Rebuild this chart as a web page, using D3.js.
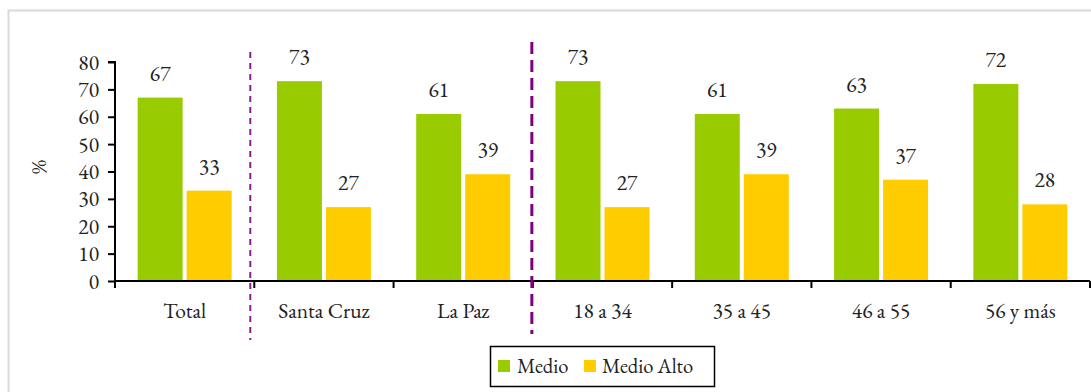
<!DOCTYPE html>
<html>
<head>
<meta charset="utf-8">
<script src="https://cdn.jsdelivr.net/npm/d3@7"></script>
<style>
  html, body { margin: 0; padding: 0; background: #fff; }
  svg { display: block; }
</style>
</head>
<body>
<svg id="chart" width="1091" height="392"></svg>
<script>
// Categories and series
const categories = ["Total", "Santa Cruz", "La Paz", "18 a 34", "35 a 45", "46 a 55", "56 y más"];
const medio = [67, 73, 61, 73, 61, 63, 72];
const medioAlto = [33, 27, 39, 27, 39, 37, 28];
const seriesNames = ["Medio", "Medio Alto"];
const yTicks = [0, 10, 20, 30, 40, 50, 60, 70, 80];
const colors = ["#99CC00", "#FFCC00"];

const FONT = '"EB Garamond", Garamond, "Liberation Serif", serif';
const FS = 21.5;
const INK = "#222";

const svg = d3.select("#chart");

// outer frame
svg.append("rect")
  .attr("x", 8.5).attr("y", 10.5)
  .attr("width", 1100).attr("height", 400)
  .attr("fill", "none").attr("stroke", "#d9d9d9").attr("stroke-width", 2);

const x0 = 115, x1 = 1090, yBase = 281, yTop = 62;

const x = d3.scaleBand().domain(categories).range([x0, x1]).paddingInner(0).paddingOuter(0);
const y = d3.scaleLinear().domain([0, 80]).range([yBase, yTop]);

const bw = x.bandwidth();
const barW = 45, barGap = 4;
const pairW = barW * 2 + barGap;
const offset = (bw - pairW) / 2;

const rows = categories.map((c, i) => ({ c, vals: [medio[i], medioAlto[i]] }));

const g = svg.append("g");

// bars with value labels
rows.forEach(r => {
  r.vals.forEach((v, k) => {
    const bx = x(r.c) + offset + k * (barW + barGap);
    g.append("rect")
      .attr("x", bx).attr("y", y(v))
      .attr("width", barW).attr("height", y(0) - y(v))
      .attr("fill", colors[k]);
    g.append("text")
      .attr("x", bx + barW / 2).attr("y", y(v) - 17)
      .attr("text-anchor", "middle")
      .attr("font-family", FONT).attr("font-size", FS).attr("fill", INK)
      .text(v);
  });
});

// y axis
const yAxis = d3.axisLeft(y).tickValues(yTicks).tickSize(7).tickPadding(9);
const ya = svg.append("g").attr("transform", `translate(${x0},0)`).call(yAxis);
ya.attr("font-family", FONT).attr("font-size", FS);
ya.select(".domain").attr("stroke", "#000").attr("stroke-width", 2).attr("d", `M-7,${yTop}H0V${yBase}`);
ya.selectAll(".tick line").attr("stroke", "#000").attr("stroke-width", 2);
ya.selectAll(".tick text").attr("fill", INK).attr("dy", "0.33em");

// x axis
const xa = svg.append("g").attr("transform", `translate(0,${yBase})`);
xa.append("line").attr("x1", x0).attr("x2", x1).attr("y1", 0).attr("y2", 0)
  .attr("stroke", "#000").attr("stroke-width", 2);
const bounds = categories.map(c => x(c)).concat([x1]);
bounds.forEach(b => {
  xa.append("line").attr("x1", b).attr("x2", b).attr("y1", 0).attr("y2", 7)
    .attr("stroke", "#000").attr("stroke-width", 2);
});
categories.forEach(c => {
  xa.append("text")
    .attr("x", x(c) + bw / 2).attr("y", 37)
    .attr("text-anchor", "middle")
    .attr("font-family", FONT).attr("font-size", FS).attr("fill", INK)
    .text(c);
});

// axis title
svg.append("text")
  .attr("transform", "translate(46,167) rotate(-90)")
  .attr("text-anchor", "middle")
  .attr("font-family", FONT).attr("font-size", FS).attr("fill", INK)
  .text("%");

// group separators
const sep1 = (x(categories[0]) + bw + x(categories[1])) / 2 - 4;
svg.append("line")
  .attr("x1", sep1).attr("x2", sep1).attr("y1", 52).attr("y2", 340)
  .attr("stroke", "#8B1C8B").attr("stroke-width", 2).attr("stroke-dasharray", "6,5");
const sep2 = x(categories[3]) - 1;
svg.append("line")
  .attr("x1", sep2).attr("x2", sep2).attr("y1", 42).attr("y2", 334)
  .attr("stroke", "#800080").attr("stroke-width", 3).attr("stroke-dasharray", "12,6");

// legend
const lg = svg.append("g").attr("transform", "translate(490,346)");
lg.append("rect").attr("x", 0.5).attr("y", 0.5).attr("width", 224).attr("height", 40)
  .attr("fill", "#fff").attr("stroke", "#000").attr("stroke-width", 1.5);
const items = [{ name: seriesNames[0], x: 8, tx: 27 }, { name: seriesNames[1], x: 94, tx: 112 }];
items.forEach((it, k) => {
  lg.append("rect").attr("x", it.x).attr("y", 14).attr("width", 12).attr("height", 12).attr("fill", colors[k]);
  lg.append("text").attr("x", it.tx).attr("y", 27)
    .attr("font-family", FONT).attr("font-size", 20.5).attr("fill", INK)
    .text(it.name);
});
</script>
</body>
</html>
